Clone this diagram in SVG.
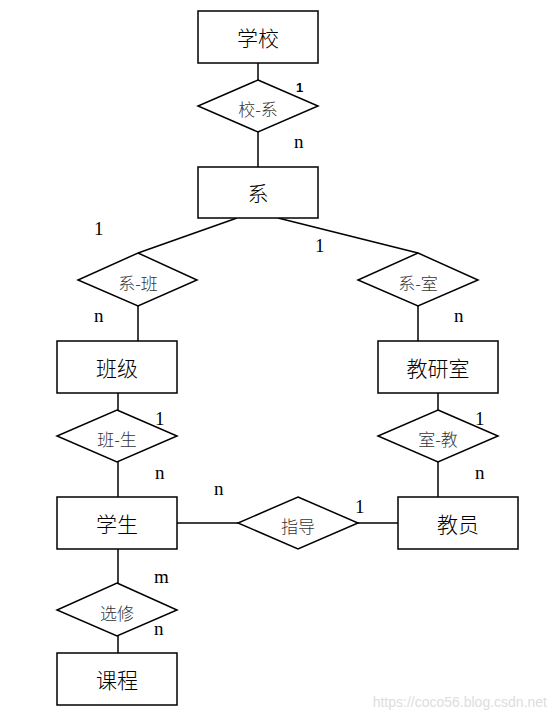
<svg xmlns="http://www.w3.org/2000/svg" width="557" height="722" viewBox="0 0 557 722">
<style>
.ent{fill:#fff;stroke:#000;stroke-width:1.5}
.rel{fill:#fff;stroke:#000;stroke-width:1.5}
.et{font-family:"Noto Sans CJK SC","Liberation Serif",serif;font-size:21px;font-weight:300;fill:#000;text-anchor:middle;dominant-baseline:central}
.rt{font-family:"Noto Sans CJK SC","Liberation Serif",serif;font-size:17px;font-weight:300;fill:#333;text-anchor:middle;dominant-baseline:central}
.card{font-family:"Liberation Serif",serif;font-size:19px;fill:#000}
.conn line{stroke:#000;stroke-width:1.5}
</style>
<rect width="557" height="722" fill="#fff"/>
<g id="connectors" class="conn">
<line x1="258" y1="63" x2="258" y2="80"/>
<line x1="258" y1="132" x2="258" y2="167"/>
<line x1="237" y1="218" x2="138" y2="253"/>
<line x1="278" y1="218" x2="418" y2="253"/>
<line x1="138" y1="306" x2="138" y2="341"/>
<line x1="418" y1="306" x2="418" y2="341"/>
<line x1="118" y1="393" x2="118" y2="410"/>
<line x1="118" y1="462" x2="118" y2="497"/>
<line x1="438" y1="393" x2="438" y2="410"/>
<line x1="438" y1="462" x2="438" y2="497"/>
<line x1="177" y1="523" x2="238" y2="523"/>
<line x1="358" y1="523" x2="398" y2="523"/>
<line x1="118" y1="549" x2="118" y2="583"/>
<line x1="118" y1="636" x2="118" y2="653"/>
</g>
<g id="school"><rect class="ent" x="198" y="11" width="120" height="52"/><text class="et" x="258" y="37">学校</text></g>
<g id="school-dept"><polygon class="rel" points="258,80 318,106 258,132 198,106"/><text class="rt" x="258" y="108">校-系</text></g>
<g id="dept"><rect class="ent" x="198" y="167" width="120" height="51"/><text class="et" x="258" y="192">系</text></g>
<g id="dept-class"><polygon class="rel" points="138,253 197,280 138,306 78,280"/><text class="rt" x="138" y="282">系-班</text></g>
<g id="dept-office"><polygon class="rel" points="418,253 478,280 418,306 358,280"/><text class="rt" x="418" y="282">系-室</text></g>
<g id="class"><rect class="ent" x="57" y="341" width="120" height="52"/><text class="et" x="117" y="367">班级</text></g>
<g id="office"><rect class="ent" x="378" y="341" width="120" height="52"/><text class="et" x="438" y="367">教研室</text></g>
<g id="class-student"><polygon class="rel" points="117,410 177,436 117,462 57,436"/><text class="rt" x="117" y="438">班-生</text></g>
<g id="office-teacher"><polygon class="rel" points="438,410 498,436 438,462 378,436"/><text class="rt" x="438" y="438">室-教</text></g>
<g id="student"><rect class="ent" x="57" y="497" width="120" height="52"/><text class="et" x="117" y="523">学生</text></g>
<g id="guide"><polygon class="rel" points="298,497 358,523 298,549 238,523"/><text class="rt" x="298" y="525">指导</text></g>
<g id="teacher"><rect class="ent" x="398" y="497" width="120" height="52"/><text class="et" x="458" y="523">教员</text></g>
<g id="elective"><polygon class="rel" points="117,583 177,610 117,636 57,610"/><text class="rt" x="117" y="612">选修</text></g>
<g id="course"><rect class="ent" x="57" y="653" width="120" height="52"/><text class="et" x="117" y="679">课程</text></g>
<g id="cardinalities">
<text x="296" y="92" font-family="Liberation Sans,sans-serif" font-size="13" font-weight="bold">1</text>
<text class="card" x="294" y="148">n</text>
<text class="card" x="94" y="235">1</text>
<text class="card" x="315" y="252">1</text>
<text class="card" x="94" y="322">n</text>
<text class="card" x="454" y="322">n</text>
<text class="card" x="155" y="425">1</text>
<text class="card" x="155" y="479">n</text>
<text class="card" x="475" y="425">1</text>
<text class="card" x="475" y="479">n</text>
<text class="card" x="214" y="495">n</text>
<text class="card" x="355" y="513">1</text>
<text class="card" x="154" y="583">m</text>
<text class="card" x="154" y="635">n</text>
</g>
<text x="547" y="707" font-family="Liberation Sans,sans-serif" font-size="14" fill="#ddd" text-anchor="end">https://coco56.blog.csdn.net</text>
</svg>
